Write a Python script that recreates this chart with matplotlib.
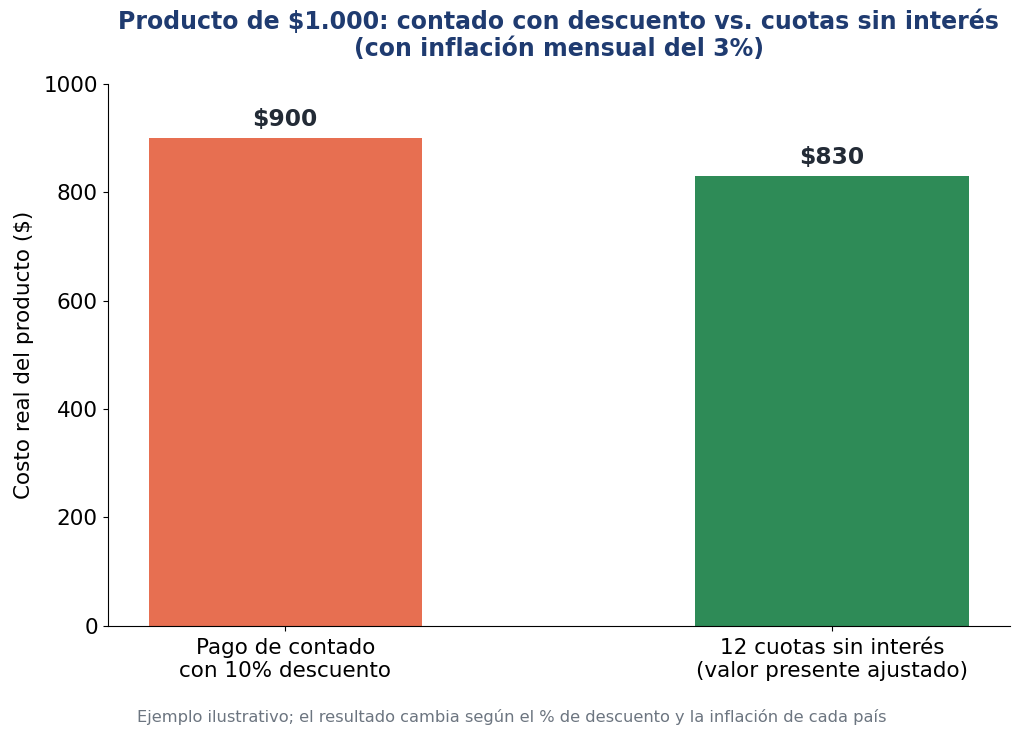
import matplotlib.pyplot as plt
import numpy as np

# Data
categorias = ["Pago de contado\ncon 10% descuento", "12 cuotas sin interés\n(valor presente ajustado)"]
costos = [900, 830]
etiquetas = ["$900", "$830"]
colores = ["#E76F51", "#2E8B57"]

fig, ax = plt.subplots(figsize=(10.24, 7.38), dpi=100)

x = np.arange(len(categorias))
bars = ax.bar(x, costos, width=0.5, color=colores)

# Value labels above the bars
for bar, texto in zip(bars, etiquetas):
    ax.annotate(texto, (bar.get_x() + bar.get_width() / 2, bar.get_height()),
                xytext=(0, 5), textcoords="offset points",
                ha="center", va="bottom", fontsize=16.8, fontweight="bold", color="#232B36")

ax.set_xticks(x)
ax.set_xticklabels(categorias, fontsize=15.5)
ax.tick_params(axis="x", pad=5)
ax.tick_params(axis="y", labelsize=15.5)
ax.set_ylim(0, 1000)
ax.set_ylabel("Costo real del producto ($)", fontsize=15.5, labelpad=7)
ax.set_title("Producto de $1.000: contado con descuento vs. cuotas sin interés\n(con inflación mensual del 3%)",
             fontsize=17, fontweight="bold", color="#1F3B70", pad=20)

ax.spines["top"].set_visible(False)
ax.spines["right"].set_visible(False)

fig.text(0.5, 0.022, "Ejemplo ilustrativo; el resultado cambia según el % de descuento y la inflación de cada país",
         ha="center", fontsize=11.7, color="#6C7580")

fig.subplots_adjust(left=0.105, right=0.986, top=0.886, bottom=0.152)
fig.savefig("out.png", dpi=100)
